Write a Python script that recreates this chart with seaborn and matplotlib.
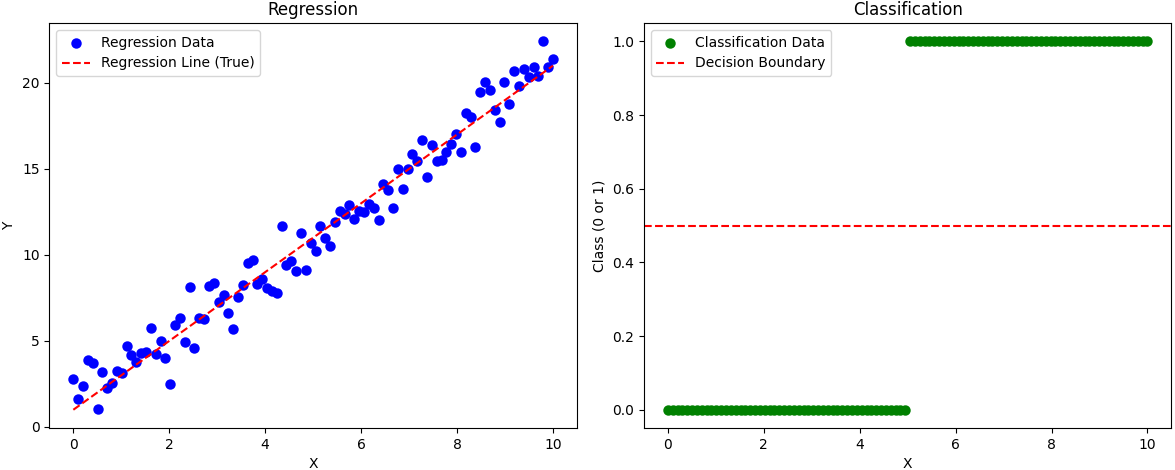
import numpy as np
import pandas as pd
import seaborn as sns
import matplotlib.pyplot as plt

# 100 evenly spaced x values 0..10
x_vals = [i * 10 / 99 for i in range(100)]

y_reg = [2.77, 1.61, 2.39, 3.88, 3.71, 1.03, 3.20, 2.25, 2.54, 3.26,
         3.16, 4.69, 4.19, 3.78, 4.29, 4.38, 5.74, 4.23, 5.00, 4.00,
         2.48, 5.92, 6.32, 4.95, 8.15, 4.58, 6.32, 6.27, 8.21, 8.38,
         7.26, 7.66, 6.61, 5.68, 7.55, 8.26, 9.52, 9.72, 8.30, 8.59,
         8.09, 7.91, 7.78, 11.68, 9.39, 9.66, 9.08, 11.27, 9.12, 10.69,
         10.22, 11.68, 10.98, 10.51, 11.89, 12.55, 12.40, 12.88, 12.09, 12.57,
         12.49, 12.98, 12.73, 12.03, 14.14, 13.77, 12.73, 15.00, 13.83, 15.00,
         15.87, 15.44, 16.68, 14.53, 16.39, 15.44, 15.50, 15.98, 16.47, 17.03,
         15.98, 18.25, 18.04, 16.28, 19.48, 20.08, 19.59, 18.41, 17.73, 20.08,
         18.78, 20.68, 19.83, 20.78, 20.37, 20.93, 20.41, 22.41, 20.93, 21.40]

y_true = [2 * v + 1 for v in x_vals]

y_class = [0] * 50 + [1] * 50

reg = pd.DataFrame({"X": x_vals, "Y": y_reg, "line": y_true})
clf = pd.DataFrame({"X": x_vals, "cls": y_class})

fig, axes = plt.subplots(1, 2, figsize=(11.75, 4.7))

ax = axes[0]
sns.scatterplot(data=reg, x="X", y="Y", color="blue", s=36, edgecolor="blue",
                linewidth=1.5, label="Regression Data", ax=ax)
sns.lineplot(data=reg, x="X", y="line", color="red", linestyle="--",
             label="Regression Line (True)", ax=ax)
ax.set_title("Regression")
ax.set_xlabel("X")
ax.set_ylabel("Y")
ax.legend(loc="upper left")

ax = axes[1]
sns.scatterplot(data=clf, x="X", y="cls", color="green", s=36, edgecolor="green",
                linewidth=1.5, label="Classification Data", ax=ax)
ax.axhline(0.5, color="red", linestyle="--", label="Decision Boundary")
ax.set_title("Classification")
ax.set_xlabel("X")
ax.set_ylabel("Class (0 or 1)")
ax.legend(loc="upper left")

plt.subplots_adjust(left=0.042, right=0.997, top=0.951, bottom=0.089, wspace=0.127)
plt.savefig("out.png", dpi=100)
